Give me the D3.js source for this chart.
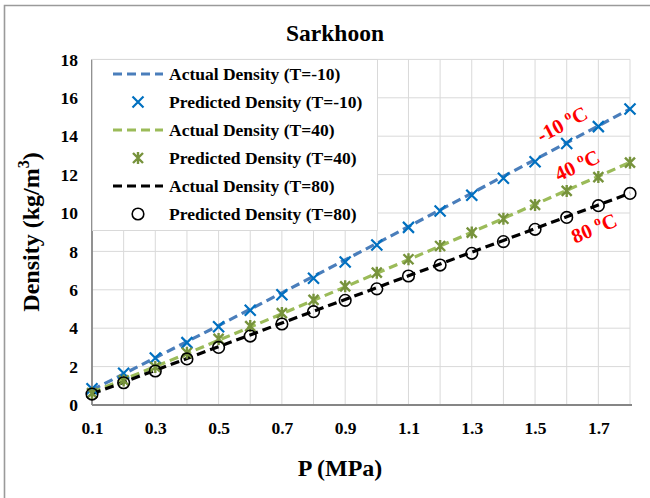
<!DOCTYPE html>
<html>
<head>
<meta charset="utf-8">
<script src="https://cdn.jsdelivr.net/npm/d3@7"></script>
<style>
  html, body { margin: 0; padding: 0; background: #fff; }
  svg { display: block; font-family: "Liberation Serif", "Times New Roman", serif; }
</style>
</head>
<body>
<svg id="chart" width="650" height="498"></svg>
<script>
// Pressure steps (MPa)
const pressure = [0.1,0.2,0.3,0.4,0.5,0.6,0.7,0.8,0.9,1.0,1.1,1.2,1.3,1.4,1.5,1.6,1.7,1.8];

// Density (kg/m3) at T = -10 °C
const actualM10    = [0.78,1.62,2.46,3.30,4.14,4.99,5.84,6.70,7.56,8.42,9.29,10.16,11.03,11.91,12.78,13.66,14.54,15.42];
const predictedM10 = [0.85,1.65,2.45,3.25,4.08,4.93,5.74,6.60,7.45,8.33,9.25,10.10,10.92,11.81,12.67,13.62,14.50,15.42];

// Density (kg/m3) at T = 40 °C
const actual40    = [0.66,1.33,2.00,2.68,3.37,4.06,4.75,5.45,6.15,6.86,7.57,8.28,9.00,9.72,10.45,11.18,11.91,12.64];
const predicted40 = [0.62,1.28,1.98,2.72,3.44,4.11,4.79,5.48,6.18,6.89,7.59,8.28,8.98,9.70,10.42,11.15,11.87,12.62];

// Density (kg/m3) at T = 80 °C
const actual80    = [0.58,1.19,1.81,2.42,3.04,3.65,4.27,4.88,5.50,6.11,6.73,7.34,7.96,8.57,9.19,9.80,10.42,11.03];
const predicted80 = [0.57,1.16,1.77,2.40,3.00,3.59,4.22,4.86,5.45,6.05,6.72,7.29,7.90,8.51,9.15,9.77,10.38,11.02];

const xTickLabels = [0.1,0.3,0.5,0.7,0.9,1.1,1.3,1.5,1.7];
const yTickLabels = [0,2,4,6,8,10,12,14,16,18];

const series = [
  { actual: actualM10, predicted: predictedM10, lineColor: "#4a7ebb", markColor: "#0070c0", marker: "x",
    actualName: "Actual Density (T=-10)", predName: "Predicted Density (T=-10)" },
  { actual: actual40, predicted: predicted40, lineColor: "#9bbb59", markColor: "#77933c", marker: "star",
    actualName: "Actual Density (T=40)", predName: "Predicted Density (T=40)" },
  { actual: actual80, predicted: predicted80, lineColor: "#000000", markColor: "#000000", marker: "circle",
    actualName: "Actual Density (T=80)", predName: "Predicted Density (T=80)" }
];

const svg = d3.select("#chart");
const W = 650, H = 498;
const plot = { left: 92, right: 630, top: 59.4, bottom: 405 };

const x = d3.scaleLinear().domain([0.1, 1.8]).range([plot.left, plot.right]);
const y = d3.scaleLinear().domain([0, 18]).range([plot.bottom, plot.top]);

// outer chart frame (left and top edges)
svg.append("path")
  .attr("d", `M4.5,${H} L4.5,5.5 L${W},5.5`)
  .attr("fill", "none").attr("stroke", "#9a9a9a").attr("stroke-width", 1.6);

// gridlines
const grid = svg.append("g").attr("stroke", "#d9d9d9").attr("stroke-width", 1);
grid.selectAll("line.v").data(pressure.slice(1)).join("line")
  .attr("x1", d => x(d)).attr("x2", d => x(d))
  .attr("y1", plot.top).attr("y2", plot.bottom);
grid.selectAll("line.h").data(yTickLabels.slice(1)).join("line")
  .attr("x1", plot.left).attr("x2", plot.right)
  .attr("y1", d => y(d)).attr("y2", d => y(d));

// axes
const xAxis = d3.axisBottom(x).tickValues(xTickLabels).tickSize(0).tickPadding(13)
  .tickFormat(d3.format(".1f"));
const yAxis = d3.axisLeft(y).tickValues(yTickLabels).tickSize(0).tickPadding(14)
  .tickFormat(d3.format("d"));

const gx = svg.append("g").attr("transform", `translate(0,${plot.bottom})`).call(xAxis);
const gy = svg.append("g").attr("transform", `translate(${plot.left},0)`).call(yAxis);
[gx, gy].forEach(g => {
  g.select(".domain").remove();
  g.selectAll("text")
    .attr("font-family", "Liberation Serif, Times New Roman, serif")
    .attr("font-size", 17.5).attr("font-weight", "bold").attr("fill", "#000");
});
gx.selectAll("text").attr("dy", "0.9em");

// axis lines
svg.append("line").attr("x1", plot.left).attr("x2", plot.left)
  .attr("y1", plot.top).attr("y2", plot.bottom)
  .attr("stroke", "#868686").attr("stroke-width", 1.8);
svg.append("line").attr("x1", plot.left).attr("x2", plot.right + 2)
  .attr("y1", plot.bottom).attr("y2", plot.bottom)
  .attr("stroke", "#868686").attr("stroke-width", 1.8);

// marker drawing
function drawMarker(g, type, color, cx, cy) {
  if (type === "x") {
    const s = 5.5;
    g.append("path")
      .attr("d", `M${cx - s},${cy - s}L${cx + s},${cy + s}M${cx - s},${cy + s}L${cx + s},${cy - s}`)
      .attr("stroke", color).attr("stroke-width", 2.2).attr("fill", "none");
  } else if (type === "star") {
    const s = 5;
    g.append("path")
      .attr("d", `M${cx - s},${cy - s}L${cx + s},${cy + s}M${cx - s},${cy + s}L${cx + s},${cy - s}M${cx},${cy - s - 1}L${cx},${cy + s + 1}`)
      .attr("stroke", color).attr("stroke-width", 2.4).attr("fill", "none");
  } else {
    g.append("circle").attr("cx", cx).attr("cy", cy).attr("r", 5.8)
      .attr("stroke", color).attr("stroke-width", 1.6).attr("fill", "none");
  }
}

// actual density lines (dashed)
const line = d3.line().x((d, i) => x(pressure[i])).y(d => y(d));
series.forEach(s => {
  svg.append("path").datum(s.actual)
    .attr("d", line)
    .attr("fill", "none").attr("stroke", s.lineColor)
    .attr("stroke-width", 3.2).attr("stroke-dasharray", "9,5");
});

// predicted density markers
series.forEach(s => {
  const g = svg.append("g");
  s.predicted.forEach((v, i) => drawMarker(g, s.marker, s.markColor, x(pressure[i]), y(v)));
});

// temperature annotations
const notes = [
  { t: "-10 ", cx: 562, cy: 124, rot: -28 },
  { t: "40 ",  cx: 577, cy: 165, rot: -25 },
  { t: "80 ",  cx: 594, cy: 228, rot: -23 }
];
notes.forEach(n => {
  const txt = svg.append("text")
    .attr("transform", `translate(${n.cx},${n.cy}) rotate(${n.rot})`)
    .attr("text-anchor", "middle").attr("dy", "0.35em")
    .attr("font-size", 20.5).attr("font-weight", "bold").attr("fill", "#ff0000");
  txt.append("tspan").text(n.t);
  txt.append("tspan").attr("font-size", 13.5).attr("dy", "-0.6em").text("o");
  txt.append("tspan").attr("dy", "0.4em").text("C");
});

// legend
const legend = svg.append("g");
legend.append("rect")
  .attr("x", 92.5).attr("y", 59.5).attr("width", 285).attr("height", 171)
  .attr("fill", "#fff").attr("stroke", "#d9d9d9");
const legendRows = [];
series.forEach(s => {
  legendRows.push({ kind: "line", s, label: s.actualName });
  legendRows.push({ kind: "mark", s, label: s.predName });
});
legendRows.forEach((r, i) => {
  const ly = 74 + i * 28;
  if (r.kind === "line") {
    legend.append("line").attr("x1", 113).attr("x2", 163).attr("y1", ly).attr("y2", ly)
      .attr("stroke", r.s.lineColor).attr("stroke-width", 3.2).attr("stroke-dasharray", "9,5");
  } else {
    drawMarker(legend, r.s.marker, r.s.markColor, 138, ly);
  }
  legend.append("text").attr("x", 169).attr("y", ly).attr("dy", "0.35em")
    .attr("font-size", 17.5).attr("font-weight", "bold").attr("fill", "#000")
    .text(r.label);
});

// titles
svg.append("text").attr("x", 335).attr("y", 41).attr("text-anchor", "middle")
  .attr("font-size", 23.5).attr("font-weight", "bold").text("Sarkhoon");

svg.append("text").attr("x", 340).attr("y", 476).attr("text-anchor", "middle")
  .attr("font-size", 24).attr("font-weight", "bold").text("P (MPa)");

const yt = svg.append("text")
  .attr("transform", "translate(39,232) rotate(-90)")
  .attr("text-anchor", "middle").attr("font-size", 24).attr("font-weight", "bold");
yt.append("tspan").text("Density (kg/m");
yt.append("tspan").attr("font-size", 16).attr("dy", "-0.6em").text("3");
yt.append("tspan").attr("dy", "0.4em").text(")");
</script>
</body>
</html>
